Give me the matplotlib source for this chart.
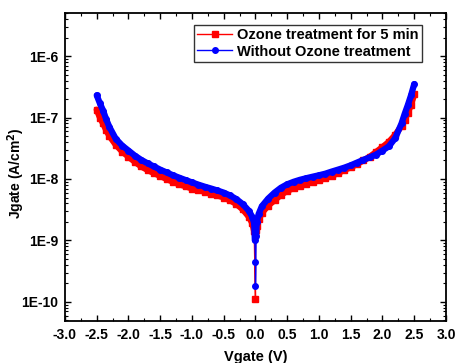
import matplotlib
matplotlib.use("Agg")
import matplotlib.pyplot as plt
from matplotlib.ticker import LogLocator, MultipleLocator, FixedLocator, NullFormatter

plt.rcParams["font.family"] = ["Liberation Sans", "DejaVu Sans"]
plt.rcParams["font.weight"] = "bold"

# Vgate (V) and Jgate (A/cm^2)
v_ozone = [-2.5, -2.45, -2.4, -2.35, -2.3, -2.2, -2.1, -2.0, -1.9, -1.8, -1.7, -1.6, -1.5, -1.4,
           -1.3, -1.2, -1.1, -1.0, -0.9, -0.8, -0.7, -0.6, -0.5, -0.4, -0.3, -0.2, -0.1,
           -0.05, -0.02, 0.0, 0.0, 0.01, 0.02, 0.05, 0.1, 0.2, 0.3, 0.4, 0.5, 0.6, 0.7, 0.8,
           0.9, 1.0, 1.1, 1.2, 1.3, 1.4, 1.5, 1.6, 1.7, 1.8, 1.9, 2.0, 2.1, 2.2, 2.3, 2.35,
           2.4, 2.45, 2.5]
j_ozone = [1.34e-7, 1.0e-7, 8.0e-8, 6.2e-8, 5.0e-8, 3.6e-8, 2.8e-8, 2.3e-8, 1.9e-8, 1.6e-8,
           1.4e-8, 1.25e-8, 1.12e-8, 1.0e-8, 9.0e-9, 8.2e-9, 7.6e-9, 7.0e-9, 6.6e-9, 6.2e-9,
           5.8e-9, 5.4e-9, 5.0e-9, 4.5e-9, 3.9e-9, 3.2e-9, 2.4e-9,
           1.9e-9, 1.4e-9, 1.1e-10, 1.35e-9, 1.5e-9, 1.7e-9, 2.2e-9, 2.8e-9, 3.7e-9, 4.5e-9,
           5.5e-9, 6.4e-9, 7.1e-9, 7.7e-9, 8.3e-9,
           9.0e-9, 9.6e-9, 1.03e-8, 1.12e-8, 1.25e-8, 1.4e-8, 1.55e-8, 1.75e-8, 2.0e-8,
           2.3e-8, 2.75e-8, 3.3e-8, 4.0e-8, 5.2e-8, 7.3e-8, 9.2e-8,
           1.2e-7, 1.6e-7, 2.4e-7]

v_plain = [-2.5, -2.45, -2.4, -2.35, -2.3, -2.2, -2.1, -2.0, -1.9, -1.8, -1.7, -1.6, -1.5, -1.4,
           -1.3, -1.2, -1.1, -1.0, -0.9, -0.8, -0.7, -0.6, -0.5, -0.4, -0.3, -0.2, -0.1,
           -0.05, -0.02, -0.01, 0.0, 0.0, 0.01, 0.02, 0.05, 0.1, 0.2, 0.3, 0.4, 0.5, 0.6, 0.7,
           0.8, 0.9, 1.0, 1.1, 1.2, 1.3, 1.4, 1.5, 1.6, 1.7, 1.8, 1.9, 2.0, 2.1, 2.2, 2.3,
           2.35, 2.4, 2.45, 2.5]
j_plain = [2.3e-7, 1.7e-7, 1.3e-7, 9.3e-8, 7.0e-8, 4.5e-8, 3.5e-8, 2.9e-8, 2.4e-8, 2.05e-8,
           1.8e-8, 1.6e-8, 1.42e-8, 1.28e-8, 1.15e-8, 1.05e-8, 9.6e-9, 8.8e-9, 8.1e-9, 7.5e-9,
           7.0e-9, 6.5e-9, 6.0e-9, 5.4e-9, 4.7e-9, 3.9e-9, 3.0e-9,
           2.4e-9, 1.9e-9, 1.0e-9, 4.5e-10, 1.8e-10, 1.2e-9, 2.0e-9, 2.7e-9, 3.6e-9, 4.8e-9,
           6.0e-9, 7.2e-9, 8.2e-9, 9.0e-9, 9.7e-9,
           1.03e-8, 1.09e-8, 1.15e-8, 1.22e-8, 1.32e-8, 1.42e-8, 1.53e-8, 1.67e-8, 1.85e-8,
           2.05e-8, 2.25e-8, 2.5e-8, 2.9e-8, 3.4e-8, 4.6e-8, 8.0e-8,
           1.15e-7, 1.6e-7, 2.3e-7, 3.5e-7]

labels = ["Ozone treatment for 5 min", "Without Ozone treatment"]
x_ticks = [-3.0, -2.5, -2.0, -1.5, -1.0, -0.5, 0.0, 0.5, 1.0, 1.5, 2.0, 2.5, 3.0]
y_ticks = [1e-10, 1e-9, 1e-8, 1e-7, 1e-6]
y_ticklabels = ["1E-10", "1E-9", "1E-8", "1E-7", "1E-6"]

fig = plt.figure(figsize=(4.56, 3.63), dpi=100)
ax = fig.add_axes([0.1425, 0.1157, 0.8355, 0.8483])


def band(v, j, color):
    # dense markers in the original merge into a thick band, except in the dip at 0 V
    for side in (lambda x: x < 0, lambda x: x > 0):
        pts = [(a, b) for a, b in zip(v, j) if side(a)]
        ax.plot([p[0] for p in pts], [p[1] for p in pts], color=color, lw=4.5,
                solid_capstyle="round", label="_nolegend_")


band(v_ozone, j_ozone, "red")
ax.plot(v_ozone, j_ozone, color="red", lw=1, marker="s", ms=4, label=labels[0])
band(v_plain, j_plain, "blue")
ax.plot(v_plain, j_plain, color="blue", lw=1, marker="o", ms=4, label=labels[1])

ax.set_yscale("log")
ax.set_xlim(-3.0, 3.0)
ax.set_ylim(4.9e-11, 5.0e-6)

ax.xaxis.set_major_locator(FixedLocator(x_ticks))
ax.xaxis.set_minor_locator(MultipleLocator(0.25))
ax.set_xticklabels([f"{t:.1f}" for t in x_ticks])
ax.yaxis.set_major_locator(FixedLocator(y_ticks))
ax.set_yticklabels(y_ticklabels)
ax.yaxis.set_minor_locator(LogLocator(base=10, subs=range(2, 10)))
ax.yaxis.set_minor_formatter(NullFormatter())

ax.tick_params(which="both", direction="in", top=True, right=True, labelsize=10)
ax.tick_params(which="major", length=4, width=1, pad=5)
ax.tick_params(which="minor", length=2, width=0.8)
for lab in ax.get_xticklabels() + ax.get_yticklabels():
    lab.set_fontweight("bold")
for s in ax.spines.values():
    s.set_linewidth(1.3)

ax.set_xlabel("Vgate (V)", fontsize=10.5, fontweight="bold", labelpad=6)
ax.set_ylabel("Jgate (A/cm$^\\mathbf{2}$)", fontsize=10, fontweight="bold")
ax.yaxis.set_label_coords(-0.1, 0.48)

leg = ax.legend(loc="upper right", bbox_to_anchor=(0.937, 0.962), fontsize=10.5, frameon=True,
                fancybox=False, edgecolor="black", handlelength=2.4, borderpad=0.25,
                labelspacing=0.15, handletextpad=0.3, borderaxespad=0)
leg.get_frame().set_linewidth(1)
for t in leg.get_texts():
    t.set_fontweight("bold")

fig.savefig("out.png", dpi=100)
